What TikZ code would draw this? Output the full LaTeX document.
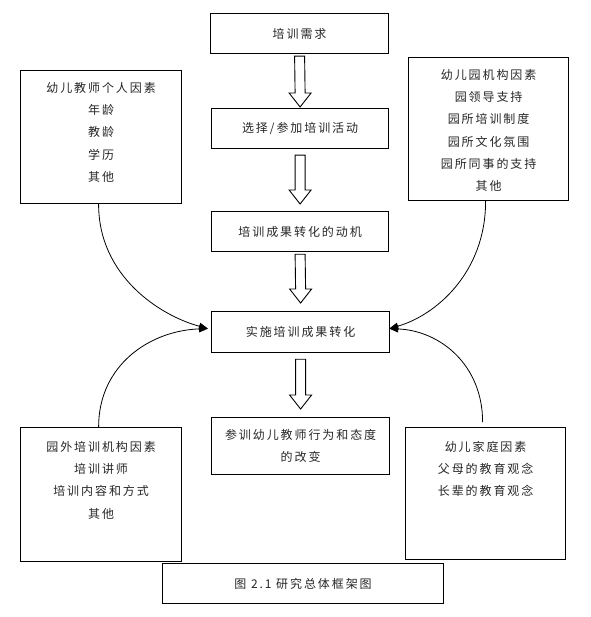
\documentclass[tikz,border=0pt]{standalone}
\usepackage{fontspec}
\newfontfamily\cjk[LetterSpace=16]{Noto Sans CJK SC}
\usetikzlibrary{calc,arrows.meta}
\newcommand\blockarr[4]{%
  \draw[blk] ($(#1.south)+(-5,#3)$) -- ($(#2.north)+(-5,-#4-14)$) -- ++(-6,0)
    -- ($(#2.north)+(0,-#4)$) -- ($(#2.north)+(11,-#4-14)$) -- ++(-6,0)
    -- ($(#1.south)+(5,#3)$) -- cycle;}
\begin{document}
\begin{tikzpicture}[x=1pt,y=-1pt,
  box/.style={draw, line width=1.2pt, inner sep=0pt, anchor=north west,
    font=\cjk\fontsize{12}{22.3}\selectfont, text=black!85, align=center},
  txt/.style={inner sep=0pt, anchor=north, align=center,
    font=\cjk\fontsize{12}{22.3}\selectfont, text=black!85},
  blk/.style={draw, fill=white, line width=0.9pt, line join=miter},
  curve/.style={line width=0.8pt, -{Triangle[length=9pt,width=7pt]}}]
\useasboundingbox (0,0) rectangle (590,617);
% flow boxes
\node[box, minimum width=178pt, minimum height=40pt] (b1) at (210,13) {培训需求};
\node[box, minimum width=177pt, minimum height=40pt] (b2) at (211,108) {选择/参加培训活动};
\node[box, minimum width=177pt, minimum height=40pt] (b3) at (211,211) {培训成果转化的动机};
\node[box, minimum width=178pt, minimum height=41pt] (b4) at (211,311) {实施培训成果转化};
\node[box, minimum width=178pt, minimum height=57pt] (b5) at (211,417) {参训幼儿教师行为和态度\\的改变};
% factor boxes
\node[box, minimum width=161pt, minimum height=133pt] (lt) at (20,70) {};
\node[txt] (ltt) at ($(lt.north)+(0,12)$) {幼儿教师个人因素\\年龄\\教龄\\学历\\其他};
\node[box, minimum width=160pt, minimum height=143pt] (rt) at (408,57) {};
\node[txt] (rtt) at ($(rt.north)+(0,12)$) {幼儿园机构因素\\园领导支持\\园所培训制度\\园所文化氛围\\园所同事的支持\\其他};
\node[box, minimum width=161pt, minimum height=134pt] (lb) at (20,427) {};
\node[txt] (lbt) at ($(lb.north)+(0,14)$) {园外培训机构因素\\培训讲师\\培训内容和方式\\其他};
\node[box, minimum width=160pt, minimum height=132pt] (rb) at (405,427) {};
\node[txt] (rbt) at ($(rb.north)+(0,14)$) {幼儿家庭因素\\父母的教育观念\\长辈的教育观念};
% caption
\node[box, minimum width=281pt, minimum height=40pt] (cap) at (162,563) {图 2.1 研究总体框架图};
% block arrows
\blockarr{b1}{b2}{2}{1}
\blockarr{b2}{b3}{6}{7}
\blockarr{b3}{b4}{2}{8}
\blockarr{b4}{b5}{6}{8}
% curved connectors
\coordinate (la) at ($(b4.west)+(-3,-3.5)$);
\coordinate (ra) at ($(b4.east)+(-1,-3.5)$);
\coordinate (lts) at ($(lt.south)+(-2.5,0)$);
\coordinate (rts) at ($(rt.south)+(-3,0)$);
\coordinate (lbs) at ($(lb.north)+(-2.5,0)$);
\coordinate (rbs) at ($(rb.north)+(-3,-5)$);
\draw[curve] (lts) .. controls +(0,72) and +(-48,-13) .. (la);
\draw[curve] (lbs) .. controls +(0,-62) and +(-58,2) .. (la);
\draw[curve] (rts) .. controls +(0,72) and +(46,-13) .. (ra);
\draw[curve] (rbs) .. controls +(0,-57) and +(51,2) .. (ra);
\end{tikzpicture}
\end{document}
